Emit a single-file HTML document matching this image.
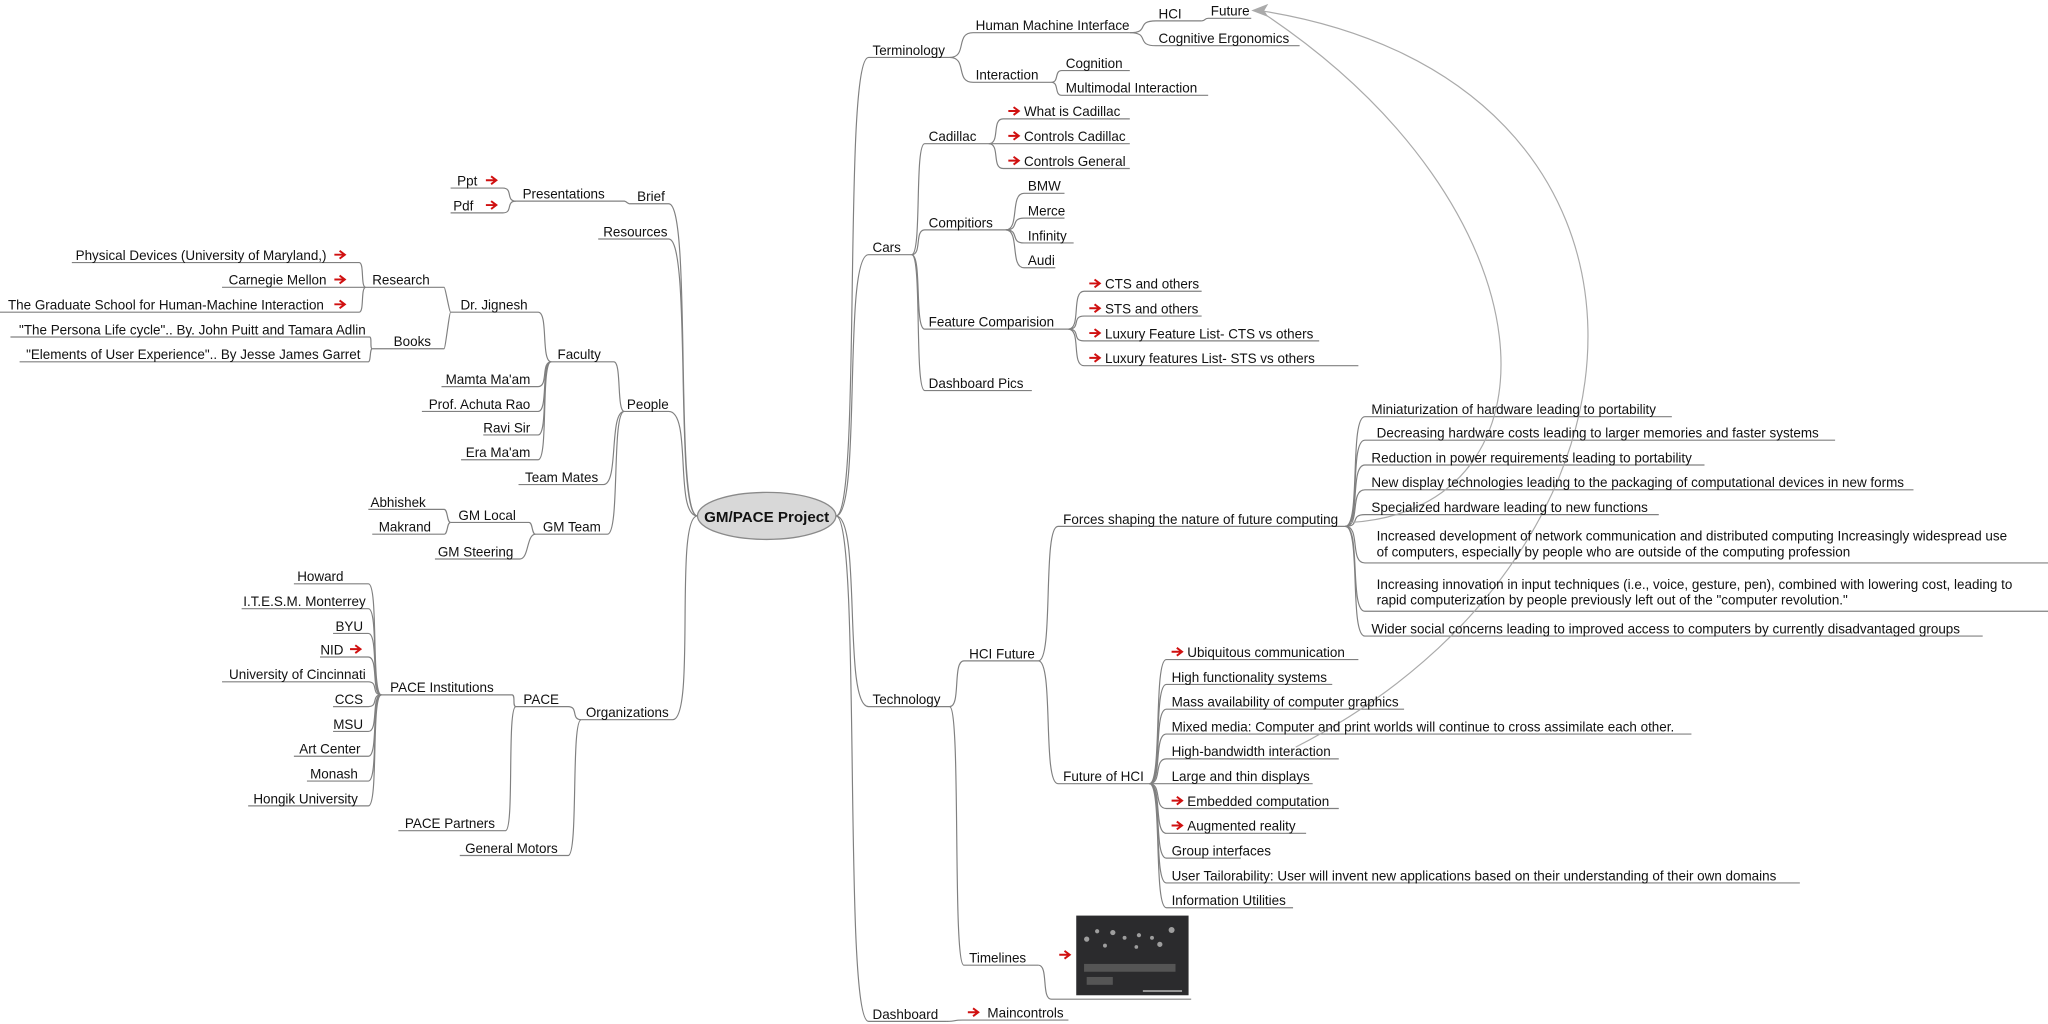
<!DOCTYPE html>
<html><head><meta charset="utf-8"><style>
html,body{margin:0;padding:0;background:#fff;width:2048px;height:1024px;overflow:hidden}
svg{display:block}
text{font-family:"Liberation Sans",Arial,sans-serif;font-size:10.3px;fill:#111}
.e{text-anchor:end}
path.c{fill:none;stroke:#808080;stroke-width:0.9}
</style></head><body>
<svg width="2048" height="1024" viewBox="0 0 1568 784" xmlns="http://www.w3.org/2000/svg">
<defs>
<g id="ar"><path d="M-4,0 H3 M0,-3 L4,0 L0,3" fill="none" stroke="#d01010" stroke-width="1.5"/></g>
</defs>

<!-- RIGHT connectors -->
<path class="c" d="M640,395 C660,395 645,44 665,44 H727"/>
<path class="c" d="M640,395 C660,395 645,195 665,195 H698"/>
<path class="c" d="M640,395 C660,395 645,541 665,541 H727"/>
<path class="c" d="M640,395 C660,395 645,782 665,782 H725"/>
<path class="c" d="M727,44 C741,44 731,25 745,25 H865"/>
<path class="c" d="M727,44 C741,44 731,63 745,63 H805"/>
<path class="c" d="M865,25 C881,25 869,16 885,16 H920"/>
<path class="c" d="M865,25 C881,25 869,35 885,35 H995"/>
<path class="c" d="M920,16 C923,16 922,14 925,14 H958"/>
<path class="c" d="M805,63 C811,63 807,54 813,54 H865"/>
<path class="c" d="M805,63 C811,63 807,73 813,73 H925"/>
<path class="c" d="M698,195 C706,195 700,110 708,110 H757"/>
<path class="c" d="M698,195 C706,195 700,176 708,176 H770"/>
<path class="c" d="M698,195 C706,195 700,252 708,252 H818"/>
<path class="c" d="M698,195 C706,195 700,299 708,299 H790"/>
<path class="c" d="M757,110 C766,110 759,91 768,91 H865"/>
<path class="c" d="M757,110 C766,110 759,110 768,110 H865"/>
<path class="c" d="M757,110 C766,110 759,129 768,129 H865"/>
<path class="c" d="M770,176 C781,176 773,148 784,148 H815"/>
<path class="c" d="M770,176 C781,176 773,167 784,167 H815"/>
<path class="c" d="M770,176 C781,176 773,186 784,186 H822"/>
<path class="c" d="M770,176 C781,176 773,205 784,205 H808"/>
<path class="c" d="M818,252 C828,252 820,223 830,223 H920"/>
<path class="c" d="M818,252 C828,252 820,242 830,242 H920"/>
<path class="c" d="M818,252 C828,252 820,261 830,261 H1010"/>
<path class="c" d="M818,252 C828,252 820,280 830,280 H1040"/>
<path class="c" d="M727,541 C736,541 729,506 738,506 H795"/>
<path class="c" d="M727,541 C736,541 729,739 738,739 H795"/>
<path class="c" d="M795,506 C807,506 798,403 810,403 H1030"/>
<path class="c" d="M795,506 C807,506 798,600 810,600 H880"/>
<path class="c" d="M1030,403 C1042,403 1033,319 1045,319 H1280"/>
<path class="c" d="M1030,403 C1042,403 1033,337 1045,337 H1405"/>
<path class="c" d="M1030,403 C1042,403 1033,356 1045,356 H1305"/>
<path class="c" d="M1030,403 C1042,403 1033,375 1045,375 H1465"/>
<path class="c" d="M1030,403 C1042,403 1033,394 1045,394 H1270"/>
<path class="c" d="M1030,403 C1042,403 1033,431 1045,431 H1568"/>
<path class="c" d="M1030,403 C1042,403 1033,468 1045,468 H1568"/>
<path class="c" d="M1030,403 C1042,403 1033,487 1045,487 H1518"/>
<path class="c" d="M880,600 C890,600 883,505 893,505 H1040"/>
<path class="c" d="M880,600 C890,600 883,524 893,524 H1020"/>
<path class="c" d="M880,600 C890,600 883,543 893,543 H1075"/>
<path class="c" d="M880,600 C890,600 883,562 893,562 H1295"/>
<path class="c" d="M880,600 C890,600 883,581 893,581 H1025"/>
<path class="c" d="M880,600 C890,600 883,600 893,600 H1005"/>
<path class="c" d="M880,600 C890,600 883,619 893,619 H1025"/>
<path class="c" d="M880,600 C890,600 883,638 893,638 H1000"/>
<path class="c" d="M880,600 C890,600 883,657 893,657 H950"/>
<path class="c" d="M880,600 C890,600 883,676 893,676 H1378"/>
<path class="c" d="M880,600 C890,600 883,695 893,695 H990"/>
<path class="c" d="M795,739 C803,739 797,765 805,765 H912"/>
<path class="c" d="M725,782 C733,782 729,781 737,781 H818"/>

<!-- cross arcs -->
<path d="M1034,400 C1200,390 1195,160 964,8" fill="none" stroke="#aaa" stroke-width="0.9"/>
<path d="M992,572 C1290,420 1300,60 964,8" fill="none" stroke="#aaa" stroke-width="0.9"/>
<polygon points="958,8 971,3 968,8 971,13" fill="#aaa"/>

<!-- LEFT connectors -->
<path class="c" d="M534,395 C516,395 530,156 512,156 H482"/>
<path class="c" d="M534,395 C516,395 530,183 512,183 H458"/>
<path class="c" d="M534,395 C516,395 530,315 512,315 H478"/>
<path class="c" d="M534,395 C516,395 533,551 515,551 H445"/>
<path class="c" d="M482,156 C481,156 479,154 478,154 H395"/>
<path class="c" d="M395,154 C387,154 393,144 385,144 H345"/>
<path class="c" d="M395,154 C387,154 393,163 385,163 H345"/>
<path class="c" d="M478,315 C472,315 476,277 470,277 H422"/>
<path class="c" d="M478,315 C466,315 474,371 462,371 H397"/>
<path class="c" d="M478,315 C468,315 475,409 465,409 H410"/>
<path class="c" d="M422,277 C414,277 420,239 412,239 H345"/>
<path class="c" d="M422,277 C414,277 420,296 412,296 H338"/>
<path class="c" d="M422,277 C414,277 420,315 412,315 H323"/>
<path class="c" d="M422,277 C414,277 420,333 412,333 H370"/>
<path class="c" d="M422,277 C414,277 420,352 412,352 H353"/>
<path class="c" d="M345,239 C344,239 341,220 340,220 H280"/>
<path class="c" d="M345,239 C344,239 341,267 340,267 H285"/>
<path class="c" d="M280,220 C276,220 279,201 275,201 H55"/>
<path class="c" d="M280,220 C276,220 279,220 275,220 H170"/>
<path class="c" d="M280,220 C276,220 279,239 275,239 H0"/>
<path class="c" d="M285,267 C283,267 285,258 283,258 H8"/>
<path class="c" d="M285,267 C283,267 284,277 282,277 H15"/>
<path class="c" d="M410,409 C407,409 408,400 405,400 H345"/>
<path class="c" d="M410,409 C403,409 405,428 398,428 H333"/>
<path class="c" d="M345,400 C342,400 343,390 340,390 H282"/>
<path class="c" d="M345,400 C342,400 343,409 340,409 H285"/>
<path class="c" d="M445,551 C437,551 443,541 435,541 H395"/>
<path class="c" d="M445,551 C437,551 443,655 435,655 H352"/>
<path class="c" d="M395,541 C392,541 395,532 392,532 H292"/>
<path class="c" d="M395,541 C388,541 394,636 387,636 H305"/>
<path class="c" d="M292,532 C284,532 290,447 282,447 H225"/>
<path class="c" d="M292,532 C284,532 290,466 282,466 H185"/>
<path class="c" d="M292,532 C284,532 290,485 282,485 H255"/>
<path class="c" d="M292,532 C284,532 290,503 282,503 H245"/>
<path class="c" d="M292,532 C284,532 290,522 282,522 H170"/>
<path class="c" d="M292,532 C284,532 290,541 282,541 H255"/>
<path class="c" d="M292,532 C284,532 290,560 282,560 H255"/>
<path class="c" d="M292,532 C284,532 290,579 282,579 H225"/>
<path class="c" d="M292,532 C284,532 290,598 282,598 H235"/>
<path class="c" d="M292,532 C284,532 290,617 282,617 H190"/>

<!-- root -->
<ellipse cx="587" cy="395" rx="53" ry="18" fill="#d8d8d8" stroke="#8a8a8a" stroke-width="1"/>
<text x="587" y="399.5" text-anchor="middle" style="font-weight:bold;font-size:11.6px">GM/PACE Project</text>

<!-- RIGHT texts -->
<text x="668" y="42">Terminology</text>
<text x="668" y="193">Cars</text>
<text x="668" y="539">Technology</text>
<text x="668" y="780">Dashboard</text>
<text x="747" y="23">Human Machine Interface</text>
<text x="747" y="61">Interaction</text>
<text x="887" y="14">HCI</text>
<text x="927" y="12">Future</text>
<text x="887" y="33">Cognitive Ergonomics</text>
<text x="816" y="52">Cognition</text>
<text x="816" y="71">Multimodal Interaction</text>
<text x="711" y="108">Cadillac</text>
<text x="711" y="174">Compitiors</text>
<text x="711" y="250">Feature Comparision</text>
<text x="711" y="297">Dashboard Pics</text>
<use href="#ar" x="776" y="85"/><text x="784" y="89">What is Cadillac</text>
<use href="#ar" x="776" y="104"/><text x="784" y="108">Controls Cadillac</text>
<use href="#ar" x="776" y="123"/><text x="784" y="127">Controls General</text>
<text x="787" y="146">BMW</text>
<text x="787" y="165">Merce</text>
<text x="787" y="184">Infinity</text>
<text x="787" y="203">Audi</text>
<use href="#ar" x="838" y="217"/><text x="846" y="221">CTS and others</text>
<use href="#ar" x="838" y="236"/><text x="846" y="240">STS and others</text>
<use href="#ar" x="838" y="255"/><text x="846" y="259">Luxury Feature List- CTS vs others</text>
<use href="#ar" x="838" y="274"/><text x="846" y="278">Luxury features List- STS vs others</text>
<text x="742" y="504">HCI Future</text>
<text x="742" y="737">Timelines</text>
<text x="814" y="401">Forces shaping the nature of future computing</text>
<text x="814" y="598">Future of HCI</text>
<text x="1050" y="317">Miniaturization of hardware leading to portability</text>
<text x="1054" y="335">Decreasing hardware costs leading to larger memories and faster systems</text>
<text x="1050" y="354">Reduction in power requirements leading to portability</text>
<text x="1050" y="373">New display technologies leading to the packaging of computational devices in new forms</text>
<text x="1050" y="392">Specialized hardware leading to new functions</text>
<text x="1054" y="414">Increased development of network communication and distributed computing Increasingly widespread use</text>
<text x="1054" y="426">of computers, especially by people who are outside of the computing profession</text>
<text x="1054" y="451">Increasing innovation in input techniques (i.e., voice, gesture, pen), combined with lowering cost, leading to</text>
<text x="1054" y="463">rapid computerization by people previously left out of the "computer revolution."</text>
<text x="1050" y="485">Wider social concerns leading to improved access to computers by currently disadvantaged groups</text>
<use href="#ar" x="901" y="499"/><text x="909" y="503">Ubiquitous communication</text>
<text x="897" y="522">High functionality systems</text>
<text x="897" y="541">Mass availability of computer graphics</text>
<text x="897" y="560">Mixed media: Computer and print worlds will continue to cross assimilate each other.</text>
<text x="897" y="579">High-bandwidth interaction</text>
<text x="897" y="598">Large and thin displays</text>
<use href="#ar" x="901" y="613"/><text x="909" y="617">Embedded computation</text>
<use href="#ar" x="901" y="632"/><text x="909" y="636">Augmented reality</text>
<text x="897" y="655">Group interfaces</text>
<text x="897" y="674">User Tailorability: User will invent new applications based on their understanding of their own domains</text>
<text x="897" y="693">Information Utilities</text>
<use href="#ar" x="815" y="731"/>
<rect x="824" y="701" width="86" height="61" fill="#2b2b2d"/>
<g fill="#bbb" opacity="0.8">
<circle cx="832" cy="719" r="2"/><circle cx="840" cy="713" r="1.6"/><circle cx="852" cy="714" r="2"/><circle cx="861" cy="718" r="1.5"/><circle cx="872" cy="716" r="1.6"/><circle cx="882" cy="718" r="1.5"/><circle cx="888" cy="723" r="2"/><circle cx="897" cy="712" r="2.3"/><circle cx="846" cy="724" r="1.5"/><circle cx="870" cy="725" r="1.4"/>
</g>
<g fill="#555"><rect x="830" y="738" width="70" height="6"/><rect x="832" y="748" width="20" height="6"/><rect x="875" y="758" width="30" height="1.5" fill="#999"/></g>
<use href="#ar" x="745" y="775"/><text x="756" y="779">Maincontrols</text>

<!-- LEFT texts -->
<text class="e" x="509" y="154">Brief</text>
<text class="e" x="511" y="181">Resources</text>
<text class="e" x="512" y="313">People</text>
<text class="e" x="512" y="549">Organizations</text>
<text class="e" x="463" y="152">Presentations</text>
<text x="350" y="142">Ppt</text><use href="#ar" x="376" y="138"/>
<text x="347" y="161">Pdf</text><use href="#ar" x="376" y="157"/>
<text class="e" x="460" y="275">Faculty</text>
<text class="e" x="404" y="237">Dr. Jignesh</text>
<text class="e" x="329" y="218">Research</text>
<text class="e" x="330" y="265">Books</text>
<text class="e" x="250" y="199">Physical Devices (University of Maryland,)</text><use href="#ar" x="260" y="195"/>
<text class="e" x="250" y="218">Carnegie Mellon</text><use href="#ar" x="260" y="214"/>
<text class="e" x="248" y="237">The Graduate School for  Human-Machine Interaction</text><use href="#ar" x="260" y="233"/>
<text class="e" x="280" y="256">"The Persona Life cycle".. By. John Puitt and Tamara Adlin</text>
<text class="e" x="276" y="275">"Elements of User Experience"..  By Jesse James Garret</text>
<text class="e" x="406" y="294">Mamta Ma'am</text>
<text class="e" x="406" y="313">Prof. Achuta Rao</text>
<text class="e" x="406" y="331">Ravi Sir</text>
<text class="e" x="406" y="350">Era Ma'am</text>
<text class="e" x="458" y="369">Team Mates</text>
<text class="e" x="460" y="407">GM Team</text>
<text class="e" x="395" y="398">GM Local</text>
<text class="e" x="393" y="426">GM Steering</text>
<text class="e" x="326" y="388">Abhishek</text>
<text class="e" x="330" y="407">Makrand</text>
<text class="e" x="428" y="539">PACE</text>
<text class="e" x="427" y="653">General Motors</text>
<text class="e" x="378" y="530">PACE Institutions</text>
<text class="e" x="379" y="634">PACE Partners</text>
<text class="e" x="263" y="445">Howard</text>
<text class="e" x="280" y="464">I.T.E.S.M. Monterrey</text>
<text class="e" x="278" y="483">BYU</text>
<text class="e" x="263" y="501">NID</text><use href="#ar" x="272" y="497"/>
<text class="e" x="280" y="520">University of Cincinnati</text>
<text class="e" x="278" y="539">CCS</text>
<text class="e" x="278" y="558">MSU</text>
<text class="e" x="276" y="577">Art Center</text>
<text class="e" x="274" y="596">Monash</text>
<text class="e" x="274" y="615">Hongik University</text>
</svg>
</body></html>
